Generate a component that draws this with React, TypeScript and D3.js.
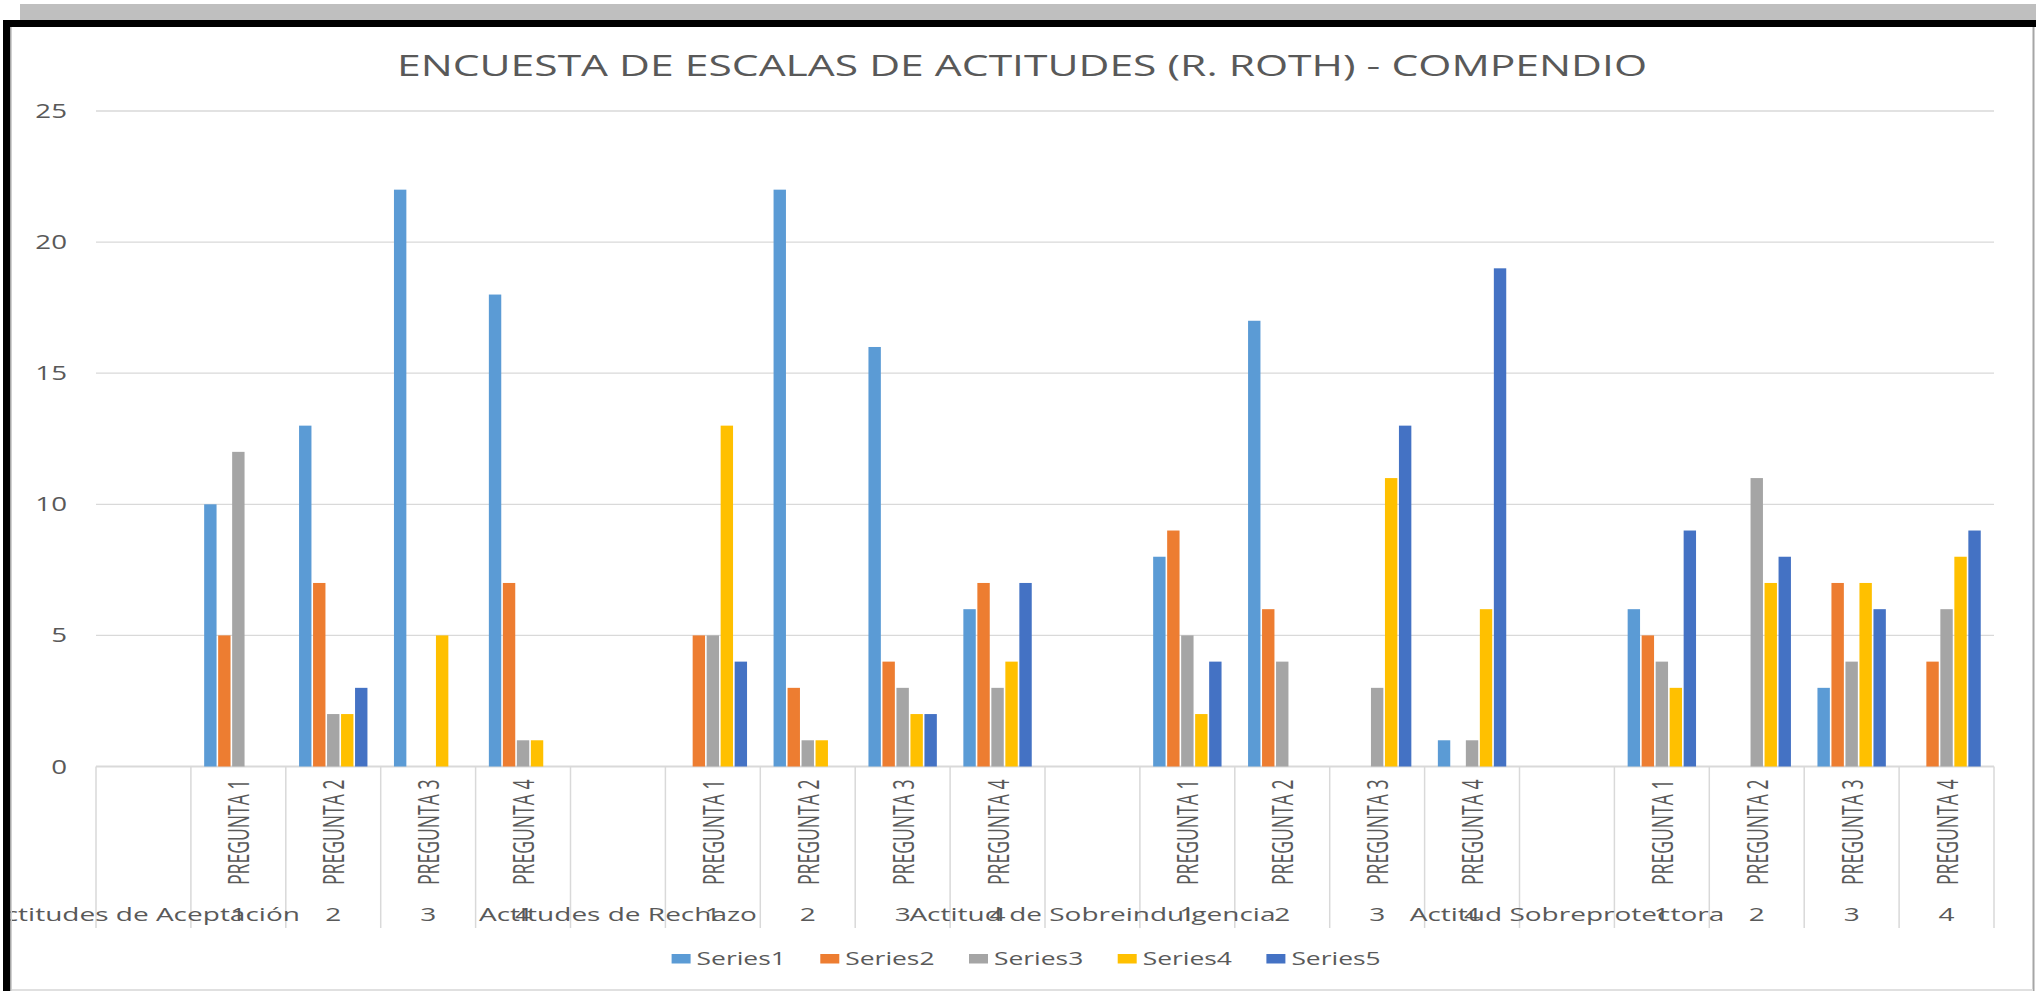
import React from "react";
import * as d3 from "d3";

// ---- data ----
const groups = [
  "Actitudes de Aceptación",
  "Actitudes de Rechazo",
  "Actitud de Sobreindulgencia",
  "Actitud Sobreprotectora",
];
const questions = ["PREGUNTA 1", "PREGUNTA 2", "PREGUNTA 3", "PREGUNTA 4"];
const questionNums = ["1", "2", "3", "4"];
const seriesNames = ["Series1", "Series2", "Series3", "Series4", "Series5"];
const seriesColors = ["#5B9BD5", "#ED7D31", "#A5A5A5", "#FFC000", "#4472C4"];

// values per question (16 = 4 groups x 4 questions)
const series1 = [10, 13, 22, 18, 0, 22, 16, 6, 8, 17, 0, 1, 6, 0, 3, 0];
const series2 = [5, 7, 0, 7, 5, 3, 4, 7, 9, 6, 0, 0, 5, 0, 7, 4];
const series3 = [12, 2, 0, 1, 5, 1, 3, 3, 5, 4, 3, 1, 4, 11, 4, 6];
const series4 = [0, 2, 5, 1, 13, 1, 2, 4, 2, 0, 11, 6, 3, 7, 7, 8];
const series5 = [0, 3, 0, 0, 4, 0, 2, 7, 4, 0, 13, 19, 9, 8, 6, 9];
const allSeries = [series1, series2, series3, series4, series5];
const yTicks = [0, 5, 10, 15, 20, 25];

// ---- layout ----
const W = 2036;
const H = 991;
const PLOT_L = 96;
const PLOT_R = 1994;
const Y0 = 766.5;
const Y25 = 111;
const SEP_BOTTOM = 928;
const SX = 1.42;
const SX_CAT = 1.49;
const FONT = "'Open Sans', 'Noto Sans', sans-serif";
const TEXT = "#595959";
const GRID = "#d9d9d9";

type Col = { kind: "group" | "q"; g: number; q: number };
const columns: Col[] = [];
groups.forEach((_, g) => {
  columns.push({ kind: "group", g, q: -1 });
  questions.forEach((__, q) => columns.push({ kind: "q", g, q }));
});

export default function App() {
  const x = d3
    .scaleBand<number>()
    .domain(d3.range(columns.length))
    .range([PLOT_L, PLOT_R])
    .paddingInner(0)
    .paddingOuter(0);
  const colW = x.bandwidth();
  const xs = d3
    .scaleBand<number>()
    .domain(d3.range(seriesNames.length))
    .range([0, colW])
    .paddingInner(0)
    .paddingOuter(0.89);
  const y = d3.scaleLinear().domain([0, 25]).range([Y0, Y25]);

  const bars: React.ReactNode[] = [];
  columns.forEach((c, ci) => {
    if (c.kind !== "q") return;
    const idx = c.g * 4 + c.q;
    allSeries.forEach((s, si) => {
      const v = s[idx];
      if (!v) return;
      const bx = (x(ci) as number) + (xs(si) as number);
      bars.push(
        <rect
          key={`b${ci}-${si}`}
          x={bx + 0.8}
          y={y(v)}
          width={xs.bandwidth() - 1.6}
          height={Y0 - y(v)}
          fill={seriesColors[si]}
        />
      );
    });
  });

  const boundaries = d3.range(columns.length + 1).map((i) =>
    i < columns.length ? (x(i) as number) : PLOT_R
  );

  const legendItemW = 148.7;
  const legendCenter = 1027;
  const legendStart = legendCenter - (seriesNames.length * legendItemW - 32.7) / 2;

  return (
    <svg
      width={W}
      height={H}
      style={{ position: "absolute", left: 0, top: 0, display: "block" }}
      fontFamily={FONT}
    >
      <rect x={0} y={0} width={W} height={H} fill="#ffffff" />

      {/* gridlines */}
      {yTicks.map((t) => (
        <line
          key={`g${t}`}
          x1={PLOT_L}
          x2={PLOT_R}
          y1={y(t)}
          y2={y(t)}
          stroke={GRID}
          strokeWidth={t === 0 ? 2 : 1.3}
        />
      ))}
      {/* y tick labels */}
      {yTicks.map((t) => (
        <text
          key={`yt${t}`}
          transform={`translate(67,${y(t) + 7}) scale(${SX},1)`}
          textAnchor="end"
          fontSize={19.5}
          fill={TEXT}
        >
          {t}
        </text>
      ))}

      {/* category separators */}
      {boundaries.map((bx, i) => (
        <line
          key={`s${i}`}
          x1={bx}
          x2={bx}
          y1={Y0}
          y2={SEP_BOTTOM}
          stroke={GRID}
          strokeWidth={1.5}
        />
      ))}

      {bars}

      {/* rotated question labels */}
      {columns.map((c, ci) =>
        c.kind === "q" ? (
          <text
            key={`q${ci}`}
            transform={`translate(${(x(ci) as number) + colW / 2 + 11},885) scale(1.7,1) rotate(-90)`}
            textAnchor="start"
            fontSize={17.6}
            fill={TEXT}
          >
            {questions[c.q]}
          </text>
        ) : null
      )}

      {/* second level labels */}
      {columns.map((c, ci) => (
        <text
          key={`n${ci}`}
          transform={`translate(${(x(ci) as number) + colW / 2},921) scale(${SX_CAT},1)`}
          textAnchor="middle"
          fontSize={18.8}
          fill={TEXT}
        >
          {c.kind === "q" ? questionNums[c.q] : groups[c.g]}
        </text>
      ))}

      {/* title */}
      <text
        transform={`translate(1022,76) scale(1.47,1)`}
        textAnchor="middle"
        fontSize={29}
        fill={TEXT}
      >
        ENCUESTA DE ESCALAS DE ACTITUDES (R. ROTH) - COMPENDIO
      </text>

      {/* legend */}
      {seriesNames.map((n, i) => {
        const lx = legendStart + i * legendItemW;
        return (
          <g key={`l${i}`}>
            <rect x={lx} y={954} width={19} height={9.5} fill={seriesColors[i]} />
            <text
              transform={`translate(${lx + 25},965) scale(${SX},1)`}
              fontSize={18.6}
              fill={TEXT}
            >
              {n}
            </text>
          </g>
        );
      })}

      {/* frame */}
      <rect x={0} y={0} width={W} height={20} fill="#ffffff" />
      <rect x={20} y={4} width={W - 20} height={16} fill="#bfbfbf" />
      <rect x={0} y={20} width={W} height={7} fill="#000000" />
      <rect x={0} y={20} width={3} height={H - 20} fill="#ffffff" />
      <rect x={3} y={20} width={7.5} height={H - 20} fill="#000000" />
      <rect x={10.5} y={27} width={1.5} height={H - 27} fill="#d0d0d0" />
      <rect x={2032.5} y={27} width={2} height={H - 27} fill="#a6a6a6" />
      <rect x={12} y={989} width={2021} height={2} fill="#e0e0e0" />
    </svg>
  );
}
